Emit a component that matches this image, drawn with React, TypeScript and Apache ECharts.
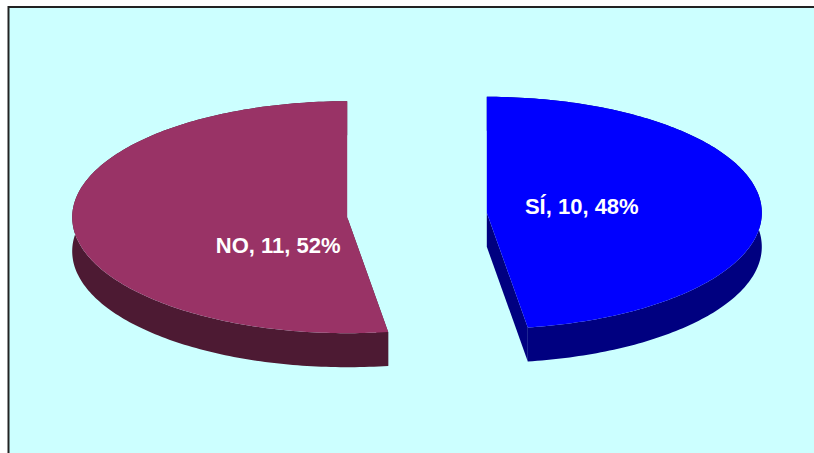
import React, { useEffect, useRef } from "react";
import * as echarts from "echarts";

// ---- data ----
const categories: string[] = ["SÍ", "NO"];
const values: number[] = [10, 11];

// ---- layout / style (not data) ----
const W = 814;
const H = 453;
const CX = 417; // base centre of the pie
const CY = 215;
const RX = 275; // horizontal radius of top ellipse
const RY = 116; // vertical radius of top ellipse
const DEPTH = 34; // thickness of the pie
const EXPLODE = 70; // explosion distance (in horizontal-radius units)
const TOP_COLORS = ["#0000FF", "#993366"];
const SIDE_COLORS = ["#000080", "#4D1A33"];
const LABEL_OFFSETS = [
  [95, -6],
  [-69, 28],
];

export default function App() {
  const ref = useRef<HTMLDivElement>(null);

  useEffect(() => {
    if (!ref.current) return;
    const chart = echarts.init(ref.current, undefined, { renderer: "svg" });
    const total = values.reduce((a, b) => a + b, 0);
    const k = RY / RX;

    const renderItem = (params: any, api: any) => {
      const idx = params.dataIndex;
      const v = api.value(0);
      let before = 0;
      for (let i = 0; i < idx; i++) before += values[i];
      const a0 = (before / total) * Math.PI * 2;
      const a1 = ((before + v) / total) * Math.PI * 2;
      const am = (a0 + a1) / 2;
      const cx = CX + EXPLODE * Math.sin(am);
      const cy = CY - EXPLODE * Math.cos(am) * k;
      const pt = (a: number, dy = 0) => [
        cx + RX * Math.sin(a),
        cy - RY * Math.cos(a) + dy,
      ];
      const steps = Math.max(8, Math.ceil(((a1 - a0) * 180) / Math.PI));
      const rimTop: number[][] = [];
      const rimBot: number[][] = [];
      for (let s = 0; s <= steps; s++) {
        const a = a0 + ((a1 - a0) * s) / steps;
        rimTop.push(pt(a));
        rimBot.push(pt(a, DEPTH));
      }
      const side = SIDE_COLORS[idx % SIDE_COLORS.length];
      const top = TOP_COLORS[idx % TOP_COLORS.length];
      const face = (a: number) => [
        [cx, cy],
        [cx, cy + DEPTH],
        pt(a, DEPTH),
        pt(a),
      ];
      const pct = Math.round((v / total) * 100);
      const off = LABEL_OFFSETS[idx % LABEL_OFFSETS.length];
      return {
        type: "group",
        children: [
          { type: "polygon", shape: { points: face(a0) }, style: { fill: side } },
          { type: "polygon", shape: { points: face(a1) }, style: { fill: side } },
          {
            type: "polygon",
            shape: { points: rimTop.concat(rimBot.slice().reverse()) },
            style: { fill: side },
          },
          {
            type: "polygon",
            shape: { points: [[cx, cy], ...rimTop] },
            style: { fill: top },
          },
          {
            type: "text",
            x: cx + off[0],
            y: cy + off[1],
            style: {
              text: `${categories[idx]}, ${v}, ${pct}%`,
              fill: "#FFFFFF",
              font: 'bold 22px "Liberation Sans", Arial, sans-serif',
              align: "center",
              verticalAlign: "middle",
            },
          },
        ],
      };
    };

    chart.setOption({
      animation: false,
      backgroundColor: "#FFFFFF",
      graphic: [
        {
          type: "rect",
          z: -10,
          shape: { x: 8.5, y: 7, width: 900, height: 600 },
          style: { fill: "#CCFFFF", stroke: "#222222", lineWidth: 2 },
          silent: true,
        },
      ],
      series: [
        {
          type: "custom",
          coordinateSystem: "none",
          silent: true,
          renderItem,
          data: values.map((v, i) => ({ name: categories[i], value: [v] })),
        },
      ],
    });
    return () => chart.dispose();
  }, []);

  return (
    <div
      ref={ref}
      style={{ position: "fixed", left: 0, top: 0, width: W, height: H }}
    />
  );
}
